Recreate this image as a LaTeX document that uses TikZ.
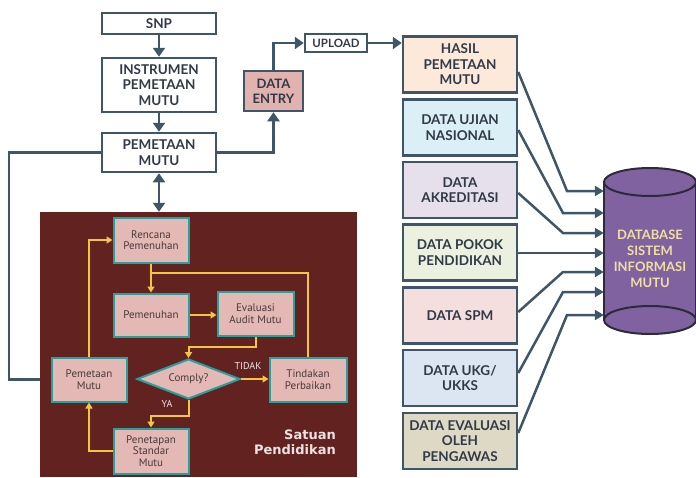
\documentclass[tikz,border=0pt]{standalone}
\usepackage{fontspec}
\setmainfont{Lato}[BoldFont={Lato Bold}]
\newfontfamily\innerfont{PT Sans}
\newfontfamily\badgefont{DejaVu Sans}[BoldFont={DejaVu Sans Bold}]
\usetikzlibrary{arrows.meta,shapes.geometric}

\definecolor{slate}{RGB}{62,86,104}
\definecolor{ink}{RGB}{48,58,72}
\definecolor{maroon}{RGB}{98,34,32}
\definecolor{rose}{RGB}{228,184,180}
\definecolor{tealline}{RGB}{40,160,158}
\definecolor{innertext}{RGB}{72,58,58}
\definecolor{gold}{RGB}{243,198,66}
\definecolor{entryfill}{RGB}{226,178,174}
\definecolor{peach}{RGB}{253,233,217}
\definecolor{sky}{RGB}{219,239,246}
\definecolor{lilac}{RGB}{229,224,236}
\definecolor{sage}{RGB}{235,241,222}
\definecolor{blush}{RGB}{244,222,222}
\definecolor{mist}{RGB}{220,230,242}
\definecolor{tanfill}{RGB}{222,217,196}
\definecolor{dbfill}{RGB}{128,98,160}
\definecolor{dbline}{RGB}{45,42,58}
\definecolor{dbtext}{RGB}{242,222,160}
\definecolor{paletext}{RGB}{236,226,226}

\pgfdeclarelayer{back}
\pgfsetlayers{back,main}

\tikzset{
  mainbox/.style={draw=slate, line width=2.5pt, fill=white, align=center,
    font=\bfseries\fontsize{13.5}{15.5}\selectfont, text=ink, inner sep=0pt},
  databox/.style={mainbox, minimum width=114pt, minimum height=56pt},
  innerbox/.style={draw=tealline, line width=2pt, fill=rose, align=center,
    font=\innerfont\fontsize{11}{11.5}\selectfont, text=innertext,
    inner sep=0pt, minimum width=75pt, minimum height=44pt},
  darrow/.style={draw=slate, line width=2.5pt, -{Triangle[width=12pt,length=9pt]}},
  dline/.style={draw=slate, line width=2.5pt},
  dbarrow/.style={draw=slate, line width=2.5pt, -{Triangle[width=10pt,length=9pt]}},
  garrow/.style={draw=gold, line width=2pt, -{Triangle[width=7pt,length=6pt]}},
  gline/.style={draw=gold, line width=2pt},
  glabel/.style={font=\innerfont\fontsize{10}{11}\selectfont, text=paletext, inner sep=0pt},
}

\begin{document}
\begin{tikzpicture}[x=1pt,y=-1pt]
\useasboundingbox (0,0) rectangle (696,477);

% school-level panel
\node[fill=maroon, inner sep=0pt, minimum width=317pt, minimum height=265pt] (panel) at (198.5,344.5) {};

% top chain
\node[mainbox, minimum width=114pt, minimum height=21pt] (snp) at (159,23.5) {SNP};
\node[mainbox, minimum width=114pt, minimum height=54pt] (instr) at (159,85) {INSTRUMEN\\PEMETAAN\\MUTU};
\node[mainbox, minimum width=114pt, minimum height=39pt] (pmain) at (159,152.5) {PEMETAAN\\MUTU};
\node[mainbox, fill=entryfill, minimum width=59pt, minimum height=40pt,
      font=\bfseries\fontsize{13}{15}\selectfont] (entry) at (273.5,91) {DATA\\ENTRY};
\node[mainbox, minimum width=62pt, minimum height=18pt,
      font=\bfseries\fontsize{11.5}{13}\selectfont] (upload) at (336,43) {UPLOAD};

% data sources
\node[databox, fill=peach] (hasil) at (460,64.5) {HASIL\\PEMETAAN\\MUTU};
\node[databox, fill=sky] (ujian) at (460,127.5) {DATA UJIAN\\NASIONAL};
\node[databox, fill=lilac] (akred) at (460,190) {DATA\\AKREDITASI};
\node[databox, fill=sage] (pokok) at (460,252.5) {DATA POKOK\\PENDIDIKAN};
\node[databox, fill=blush] (spm) at (460,315.5) {DATA SPM};
\node[databox, fill=mist] (ukg) at (460,378) {DATA UKG/\\UKKS};
\node[databox, fill=tanfill] (eval) at (460,441) {DATA EVALUASI\\OLEH\\PENGAWAS};

% database cylinder
\fill[dbfill] (604,182) -- (604,320) arc[start angle=180, end angle=0, x radius=46, y radius=14] -- (696,182) -- cycle;
\draw[dbline, line width=2pt] (604,182) -- (604,320) (696,182) -- (696,320);
\draw[dbline, line width=2pt] (650,320) ellipse[x radius=46, y radius=14];
\draw[dbline, line width=2pt, fill=dbfill] (650,182) ellipse[x radius=46, y radius=14];
\node[align=center, text=dbtext, font=\bfseries\fontsize{13}{16}\selectfont,
      inner sep=0pt, minimum width=92pt] (db) at (650,259) {DATABASE\\SISTEM\\INFORMASI\\MUTU};

% inner cycle
\node[innerbox, minimum height=45pt] (ren) at (151,240) {Rencana\\Pemenuhan};
\node[innerbox, minimum height=43pt] (pem) at (151,315) {Pemenuhan};
\node[innerbox, minimum width=76pt] (eva) at (255.5,313.5) {Evaluasi\\Audit Mutu};
\node[diamond, draw=tealline, line width=2pt, fill=rose, inner sep=0pt, aspect=2.575,
      minimum width=103pt, minimum height=40pt, text=innertext,
      font=\innerfont\fontsize{11}{11.5}\selectfont] (comply) at (188.5,379) {Comply?};
\node[innerbox, minimum width=77pt] (tin) at (308,379.5) {Tindakan\\Perbaikan};
\node[innerbox] (pmm) at (89,379.5) {Pemetaan\\Mutu};
\node[innerbox, minimum height=45pt] (pen) at (151,451) {Penetapan\\Standar\\Mutu};

\node[anchor=north east, align=right, text=paletext, inner sep=0pt,
      font=\badgefont\bfseries\fontsize{13}{14.5}\selectfont] (satuan) at (336,430) {Satuan\\Pendidikan};

% top chain connectors
\draw[darrow] (snp.south) -- (instr.north);
\draw[darrow] (instr.south) -- (pmain.north);
\draw[dline, {Triangle[width=12pt,length=9pt]}-{Triangle[width=12pt,length=9pt]}] (pmain.south) -- (pmain.south |- panel.north);
\draw[darrow] (pmain.east) -| (entry.south);
\draw[darrow] (entry.north) |- (upload.west);
\draw[darrow] (upload.east) -- (upload.east -| hasil.west);
\begin{pgfonlayer}{back}
\draw[dline] (pmain.west) -- (9,152.5) -- (9,379.5) -- (pmm.west);
\end{pgfonlayer}

% sources into the database
\draw[dbarrow] (hasil.east |- 0,72) -- (567,191) -- (db.west |- 0,191);
\draw[dbarrow] (ujian.east |- 0,130) -- (563,213) -- (db.west |- 0,213);
\draw[dbarrow] (akred.east |- 0,193) -- (563,233) -- (db.west |- 0,233);
\draw[dbarrow] (pokok.east |- 0,253) -- (db.west |- 0,253);
\draw[dbarrow] (spm.east |- 0,312) -- (563,272) -- (db.west |- 0,272);
\draw[dbarrow] (ukg.east |- 0,373) -- (563,292) -- (db.west |- 0,292);
\draw[dbarrow] (eval.east |- 0,433) -- (567,315) -- (db.west |- 0,315);

% inner cycle connectors
\coordinate (join) at (151,273);
\draw[garrow] (pmm.north) |- (ren.west);
\draw[garrow] (ren.south) -- (pem.north);
\draw[gline] (tin.north) |- (join);
\draw[garrow] (pem.east) -- (pem.east -| eva.west);
\draw[garrow] (eva.south) -- ++(0,10) -| (comply.north);
\draw[garrow] (comply.east) -- (comply.east -| tin.west);
\draw[garrow] (comply.south) -- ++(0,16) -| (pen.north);
\draw[garrow] (pen.west) -| (pmm.south);
\node[glabel] (tidak) at (248,366) {TIDAK};
\node[glabel] (ya) at (167,404) {YA};
\end{tikzpicture}
\end{document}
